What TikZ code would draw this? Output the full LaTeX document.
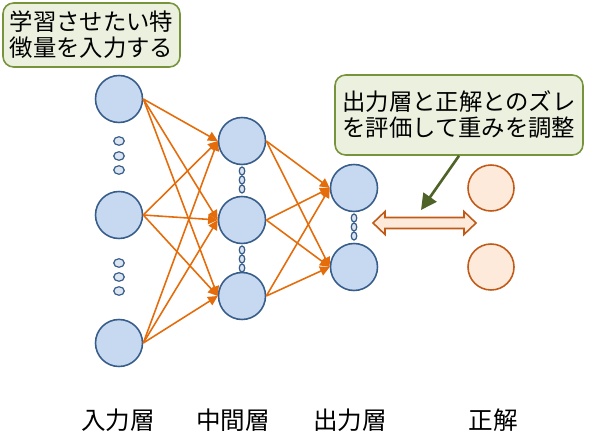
\documentclass[tikz,border=0pt]{standalone}
\usepackage{fontspec}
\setmainfont{Noto Sans CJK JP}
\definecolor{nodefill}{RGB}{198,217,241}
\definecolor{nodeedge}{RGB}{56,93,138}
\definecolor{dotfill}{RGB}{220,230,242}
\definecolor{edgeorange}{RGB}{228,108,10}
\definecolor{ansfill}{RGB}{253,234,218}
\definecolor{ansedge}{RGB}{192,90,25}
\definecolor{notefill}{RGB}{235,241,222}
\definecolor{noteedge}{RGB}{119,147,60}
\definecolor{notearrow}{RGB}{79,98,40}
\usetikzlibrary{arrows.meta}
\tikzset{
  neuron/.style={circle,draw=nodeedge,fill=nodefill,line width=0.9pt,
                 minimum size=0.94cm,inner sep=0pt},
  answer/.style={circle,draw=ansedge,fill=ansfill,line width=0.9pt,
                 minimum size=0.92cm,inner sep=0pt},
  link/.style={-{Triangle[length=5.5pt,width=5.5pt]},edgeorange,line width=0.9pt},
  note/.style={rectangle,rounded corners=6pt,draw=noteedge,fill=notefill,
               line width=0.9pt,align=left,inner sep=2pt,
               font=\fontsize{13.3}{14.7}\selectfont},
  layerlabel/.style={font=\fontsize{14}{16}\selectfont,inner sep=0pt},
}
\begin{document}
\begin{tikzpicture}[x=0.02cm,y=-0.02cm]
  \useasboundingbox (0,0) rectangle (590,438);
  % layers
  \foreach \n/\y in {1/99,2/215,3/343}
    \node[neuron] (in\n) at (119,\y) {};
  \foreach \n/\y in {1/141,2/220,3/296}
    \node[neuron] (hid\n) at (242,\y) {};
  \foreach \n/\y in {1/188,2/267}{
    \node[neuron] (out\n) at (354,\y) {};
    \node[answer] (ans\n) at (491,\y) {};
  }
  % dots
  \foreach \y in {141,156,170,263,277,291}
    \draw[nodeedge,fill=dotfill,line width=0.7pt] (119,\y)
      ellipse [x radius=0.105cm,y radius=0.085cm];
  \foreach \y in {171,180,189,250,259,268}
    \draw[nodeedge,fill=dotfill,line width=0.7pt] (242,\y)
      ellipse [x radius=0.055cm,y radius=0.08cm];
  \foreach \y in {218,227,236}
    \draw[nodeedge,fill=dotfill,line width=0.7pt] (354,\y)
      ellipse [x radius=0.055cm,y radius=0.08cm];
  % connections
  \foreach \i in {1,2,3}
    \foreach \j in {1,2,3}
      \draw[link] (in\i.east) -- (hid\j.west);
  \foreach \i in {1,2,3}
    \foreach \j in {1,2}
      \draw[link] (hid\i.east) -- (out\j.west);
  % comparison arrow
  \draw[ansedge,fill=ansfill,line width=0.9pt] (373,223) -- (385,211.5)
    -- (385,217.5) -- (464,217.5) -- (464,211.5) -- (476,223)
    -- (464,234.5) -- (464,228.5) -- (385,228.5) -- (385,234.5) -- cycle;
  % notes
  \node[note,minimum width=3.54cm,minimum height=1.28cm] (featnote)
    at (91.5,35) {学習させたい特\\徴量を入力する};
  \node[note,minimum width=4.96cm,minimum height=1.6cm] (errnote)
    at (459,115) {出力層と正解とのズレ\\を評価して重みを調整};
  \coordinate (errtip) at (421,210);
  \draw[notearrow,line width=1.5pt,-{Triangle[length=9pt,width=9pt]}]
    (errnote.south) -- (errtip);
  % labels
  \foreach \x/\t [count=\k] in {118/入力層,233/中間層,350/出力層,493/正解}
    \node[layerlabel] (lab\k) at (\x,420) {\t};
\end{tikzpicture}
\end{document}
